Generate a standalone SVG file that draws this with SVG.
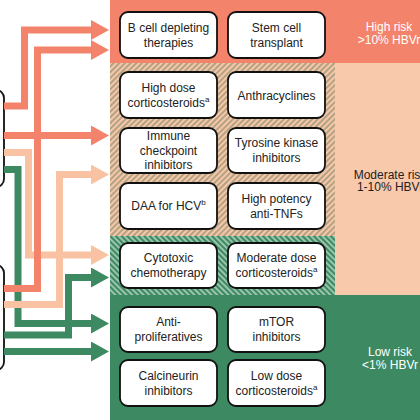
<svg xmlns="http://www.w3.org/2000/svg" width="420" height="420" viewBox="0 0 420 420">
<defs>
<style>
.node rect{fill:#fff;stroke:#111;stroke-width:1.8}
.node text,.lbl{font-family:"Liberation Sans",Arial,sans-serif;font-size:12px;text-anchor:middle;fill:#222}
.sup{font-size:8px}
.lbl.w{fill:#fff}
.con path{fill:none;stroke-width:7;stroke-linejoin:miter}
.sal{stroke:#F3836A}
.pch{stroke:#F9C3A3}
.grn{stroke:#3D8A62}
</style>
<pattern id="hatchP" width="4" height="4" patternUnits="userSpaceOnUse" patternTransform="rotate(45)">
<rect width="4" height="4" fill="#F7C7AA"/>
<line x1="1" y1="0" x2="1" y2="4" stroke="#6F7E5C" stroke-width="1"/>
</pattern>
<pattern id="hatchG" width="4" height="4" patternUnits="userSpaceOnUse" patternTransform="rotate(-45)">
<rect width="4" height="4" fill="#3D8A62"/>
<line x1="1" y1="0" x2="1" y2="4" stroke="#D8EADF" stroke-width="1.2"/>
</pattern>
<marker id="mS" viewBox="0 0 18 20" markerWidth="18" markerHeight="20" markerUnits="userSpaceOnUse" refX="0" refY="10" orient="auto"><path d="M0,0 L18,10 L0,20 z" fill="#F3836A"/></marker>
<marker id="mP" viewBox="0 0 18 20" markerWidth="18" markerHeight="20" markerUnits="userSpaceOnUse" refX="0" refY="10" orient="auto"><path d="M0,0 L18,10 L0,20 z" fill="#F9C3A3"/></marker>
<marker id="mG" viewBox="0 0 18 20" markerWidth="18" markerHeight="20" markerUnits="userSpaceOnUse" refX="0" refY="10" orient="auto"><path d="M0,0 L18,10 L0,20 z" fill="#3D8A62"/></marker>
</defs>
<rect width="420" height="420" fill="#fff"/>
<g id="bands">
<rect x="110" y="0" width="310" height="63" fill="#F3836A"/>
<rect x="110" y="63" width="310" height="233" fill="#F9C9AC"/>
<rect x="110" y="63" width="225" height="173" fill="url(#hatchP)"/>
<rect x="110" y="236" width="225" height="59" fill="url(#hatchG)"/>
<rect x="110" y="295" width="310" height="125" fill="#3D8A62"/>
<rect x="335" y="295" width="85" height="1" fill="#3D8A62"/>
</g>
<g id="risk-labels">
<text class="lbl w" x="389" y="30.5">High risk</text>
<text class="lbl w" x="389" y="43.5">&gt;10% HBVr</text>
<text class="lbl" x="390" y="178.5">Moderate risk</text>
<text class="lbl" x="390" y="191">1-10% HBVr</text>
<text class="lbl w" x="390" y="355.5">Low risk</text>
<text class="lbl w" x="390" y="368.5">&lt;1% HBVr</text>
</g>
<g id="source-1" class="node"><rect x="-100" y="90" width="104" height="97" rx="8"/></g>
<g id="source-2" class="node"><rect x="-100" y="265" width="104" height="105" rx="8"/></g>
<g id="connectors" class="con">
<path class="grn" d="M4,169.5 H18 V323.5 H91" marker-end="url(#mG)"/>
<path class="grn" d="M4,335 H68.5 V277.5 H91" marker-end="url(#mG)"/>
<path class="grn" d="M4,351.5 H91" marker-end="url(#mG)"/>
<path class="pch" d="M4,152.5 H28.5 V255 H91" marker-end="url(#mP)"/>
<path class="pch" d="M4,304.5 H59.5 V174.5 H91" marker-end="url(#mP)"/>
<path class="sal" d="M4,106 H24.5 V30 H91" marker-end="url(#mS)"/>
<path class="sal" d="M4,288.5 H37.5 V50 H91" marker-end="url(#mS)"/>
<path class="sal" d="M4,135.5 H91" marker-end="url(#mS)"/>
</g>
<g id="b-cell" class="node"><rect x="120" y="12" width="97" height="46" rx="8"/><text x="168.5" y="31.5">B cell depleting</text><text x="168.5" y="46.5">therapies</text></g>
<g id="stem-cell" class="node"><rect x="228" y="12" width="97" height="46" rx="8"/><text x="276.5" y="31.5">Stem cell</text><text x="276.5" y="46.5">transplant</text></g>
<g id="high-dose" class="node"><rect x="120" y="72" width="97" height="46" rx="8"/><text x="168.5" y="91.5">High dose</text><text x="168.5" y="106.5">corticosteroids<tspan class="sup" dy="-5">a</tspan></text></g>
<g id="anthracyclines" class="node"><rect x="228" y="72" width="97" height="46" rx="8"/><text x="276.5" y="99.5">Anthracyclines</text></g>
<g id="checkpoint" class="node"><rect x="120" y="128" width="97" height="45" rx="8"/><text x="168.5" y="140">Immune</text><text x="168.5" y="154.5">checkpoint</text><text x="168.5" y="169">inhibitors</text></g>
<g id="tki" class="node"><rect x="228" y="128" width="97" height="45" rx="8"/><text x="276.5" y="147">Tyrosine kinase</text><text x="276.5" y="162">inhibitors</text></g>
<g id="daa" class="node"><rect x="120" y="183" width="97" height="46" rx="8"/><text x="168.5" y="210">DAA for HCV<tspan class="sup" dy="-5">b</tspan></text></g>
<g id="anti-tnf" class="node"><rect x="228" y="183" width="97" height="46" rx="8"/><text x="276.5" y="202.5">High potency</text><text x="276.5" y="217.5">anti-TNFs</text></g>
<g id="cytotoxic" class="node"><rect x="120" y="243" width="97" height="45" rx="8"/><text x="168.5" y="262">Cytotoxic</text><text x="168.5" y="277">chemotherapy</text></g>
<g id="moderate-dose" class="node"><rect x="228" y="243" width="97" height="45" rx="8"/><text x="276.5" y="262">Moderate dose</text><text x="276.5" y="277">corticosteroids<tspan class="sup" dy="-5">a</tspan></text></g>
<g id="antiproliferatives" class="node"><rect x="120" y="307" width="97" height="45" rx="8"/><text x="168.5" y="326">Anti-</text><text x="168.5" y="341">proliferatives</text></g>
<g id="mtor" class="node"><rect x="228" y="307" width="97" height="45" rx="8"/><text x="276.5" y="326">mTOR</text><text x="276.5" y="341">inhibitors</text></g>
<g id="calcineurin" class="node"><rect x="120" y="360" width="97" height="46" rx="8"/><text x="168.5" y="379.5">Calcineurin</text><text x="168.5" y="394.5">inhibitors</text></g>
<g id="low-dose" class="node"><rect x="228" y="360" width="97" height="46" rx="8"/><text x="276.5" y="379.5">Low dose</text><text x="276.5" y="394.5">corticosteroids<tspan class="sup" dy="-5">a</tspan></text></g>
</svg>
